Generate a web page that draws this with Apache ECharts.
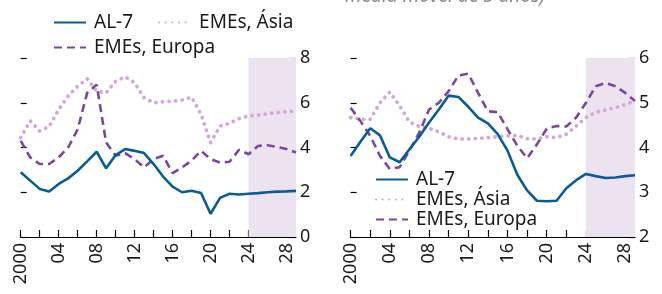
<!DOCTYPE html>
<html>
<head>
<meta charset="utf-8">
<script src="https://cdn.jsdelivr.net/npm/echarts@6/dist/echarts.min.js"></script>
<style>
  html, body { margin: 0; padding: 0; background: #fff; }
  #chart { width: 662px; height: 294px; }
</style>
</head>
<body>
<div id="chart"></div>
<script>
const years = [];
for (let y = 2000; y <= 2029; y++) years.push(String(y));

// painel esquerdo
const al7Left = [2.89, 2.52, 2.15, 2.03, 2.37, 2.62, 2.96, 3.38, 3.81, 3.07, 3.66, 3.93, 3.85, 3.75, 3.26, 2.70, 2.25, 2.00, 2.07, 1.97, 1.04, 1.75, 1.93, 1.90, 1.93, 1.96, 2.00, 2.03, 2.04, 2.06];
const asiaLeft = [4.44, 5.19, 4.74, 4.93, 5.70, 6.30, 6.74, 7.07, 6.52, 6.44, 6.96, 7.16, 6.89, 6.22, 6.00, 6.04, 6.07, 6.12, 6.25, 5.48, 4.22, 4.96, 5.08, 5.29, 5.41, 5.45, 5.51, 5.56, 5.60, 5.63];
const europaLeft = [4.30, 3.56, 3.26, 3.26, 3.56, 4.00, 4.81, 6.44, 6.81, 4.22, 3.63, 3.75, 3.48, 3.11, 3.48, 3.63, 2.86, 3.11, 3.41, 3.85, 3.48, 3.33, 3.36, 3.90, 3.70, 4.07, 4.10, 4.03, 3.93, 3.78];

// painel direito
const al7Right = [3.81, 4.13, 4.43, 4.27, 3.78, 3.67, 3.96, 4.24, 4.56, 4.85, 5.16, 5.13, 4.91, 4.67, 4.54, 4.30, 3.93, 3.39, 3.04, 2.81, 2.80, 2.81, 3.09, 3.27, 3.41, 3.36, 3.32, 3.33, 3.36, 3.38];
const asiaRight = [4.67, 4.63, 4.63, 5.00, 5.24, 4.93, 4.57, 4.47, 4.43, 4.35, 4.24, 4.19, 4.19, 4.20, 4.22, 4.24, 4.26, 4.27, 4.20, 4.19, 4.24, 4.22, 4.30, 4.48, 4.67, 4.79, 4.84, 4.89, 4.96, 5.04];
const europaRight = [4.89, 4.59, 4.26, 3.81, 3.52, 3.56, 3.93, 4.33, 4.85, 5.00, 5.26, 5.61, 5.65, 5.22, 4.81, 4.79, 4.41, 4.04, 3.76, 4.07, 4.42, 4.48, 4.47, 4.67, 5.00, 5.37, 5.44, 5.37, 5.22, 5.04];

const shadeFrom = "2024";
const shadeTo = "2029";

const FONT = "Noto Sans";
const TXT = "#1a1a1a";
const BLUE = "#0a5c96";
const PINK = "#d3a8d8";
const PURPLE = "#7b479e";

const chart = echarts.init(document.getElementById("chart"));

const xAxisFor = (gi) => ({
  type: "category",
  gridIndex: gi,
  data: years,
  boundaryGap: false,
  axisLine: { lineStyle: { color: "#000", width: 1.2 } },
  axisTick: { inside: true, length: 7, interval: 1, lineStyle: { color: "#000", width: 1.2 } },
  axisLabel: {
    interval: 3,
    rotate: 90,
    margin: 6,
    fontFamily: FONT,
    fontSize: 18,
    color: TXT,
    formatter: (v) => (v === "2000" ? v : v.slice(2)),
  },
  splitLine: { show: false },
});

const yAxesFor = (gi, min, max, step) => [
  {
    type: "value",
    gridIndex: gi,
    position: "right",
    min, max, interval: step,
    axisLine: { show: false },
    axisTick: { show: true, inside: true, length: 7, lineStyle: { color: "#000", width: 1.2 } },
    axisLabel: { margin: 4, fontFamily: FONT, fontSize: 18, color: TXT },
    splitLine: { show: false },
  },
  {
    type: "value",
    gridIndex: gi,
    position: "left",
    min, max, interval: step,
    axisLine: { show: false },
    axisTick: { show: true, inside: true, length: 6, lineStyle: { color: "#000", width: 1.2 } },
    axisLabel: { show: false },
    splitLine: { show: false },
  },
];

const line = (name, data, gi, yi, style) => ({
  name,
  type: "line",
  xAxisIndex: gi,
  yAxisIndex: yi,
  data,
  symbol: "none",
  smooth: false,
  lineStyle: style,
  itemStyle: { color: style.color },
  z: 3,
});

const blueStyle = { color: BLUE, width: 2.6 };
const pinkStyle = { color: PINK, width: 3.8, type: [0.1, 6.5], cap: "round" };
const purpleStyle = { color: PURPLE, width: 2.6, type: [8, 5] };

const shade = (gi, yi) => ({
  type: "line",
  xAxisIndex: gi,
  yAxisIndex: yi,
  data: [],
  silent: true,
  z: 1,
  markArea: {
    silent: true,
    itemStyle: { color: "#ede2f0" },
    data: [[{ xAxis: shadeFrom }, { xAxis: shadeTo }]],
  },
});

const legendText = { fontFamily: FONT, fontSize: 19, color: TXT, padding: [0, 0, 0, 3] };
const legendBase = {
  itemWidth: 32,
  itemHeight: 14,
  itemStyle: { opacity: 0 },
  textStyle: legendText,
};

const option = {
  animation: false,
  backgroundColor: "#fff",
  grid: [
    { left: 20.7, right: 366, top: 58, bottom: 57 },
    { left: 350.6, right: 27, top: 58, bottom: 57 },
  ],
  xAxis: [xAxisFor(0), xAxisFor(1)],
  yAxis: [...yAxesFor(0, 0, 8, 2), ...yAxesFor(1, 2, 6, 1)],
  legend: [
    { ...legendBase, data: ["AL-7", "EMEs, Ásia"], left: 48, top: 8, itemGap: 25 },
    { ...legendBase, data: ["EMEs, Europa"], left: 48, top: 33 },
    {
      ...legendBase,
      data: ["AL-7", "EMEs, Ásia", "EMEs, Europa"],
      orient: "vertical",
      left: 370, top: 165, itemGap: 1,
    },
  ],
  graphic: [
    {
      type: "text",
      left: 345, top: -13,
      style: {
        text: "média móvel de 5 anos)",
        font: "italic 19px 'Noto Sans'",
        fill: "#8a8a8a",
      },
    },
  ],
  series: [
    shade(0, 0),
    shade(1, 2),
    line("EMEs, Ásia", asiaLeft, 0, 0, pinkStyle),
    line("EMEs, Europa", europaLeft, 0, 0, purpleStyle),
    line("AL-7", al7Left, 0, 0, blueStyle),
    line("EMEs, Ásia", asiaRight, 1, 2, pinkStyle),
    line("EMEs, Europa", europaRight, 1, 2, purpleStyle),
    line("AL-7", al7Right, 1, 2, blueStyle),
  ],
};

chart.setOption(option);
</script>
</body>
</html>
